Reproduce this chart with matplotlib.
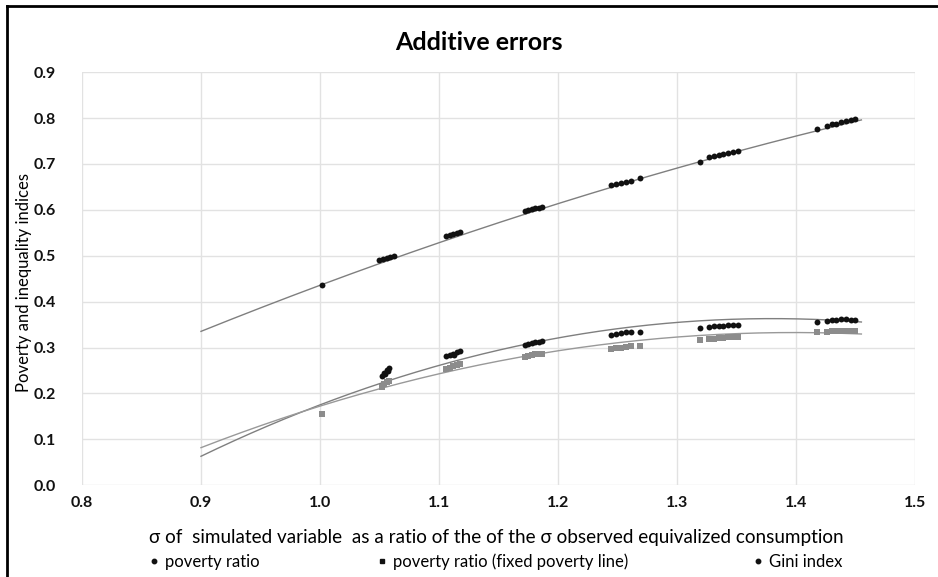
import numpy as np
import matplotlib
matplotlib.use("Agg")
import matplotlib.pyplot as plt
from matplotlib.lines import Line2D

plt.rcParams['font.family'] = ['Lato', 'DejaVu Sans']

# scatter values
gini_x = [1.002,
          1.050, 1.053, 1.056, 1.059, 1.062,
          1.106, 1.109, 1.112, 1.115, 1.118,
          1.172, 1.175, 1.178, 1.181, 1.184, 1.187,
          1.245, 1.249, 1.253, 1.257, 1.261, 1.269,
          1.319,
          1.327, 1.331, 1.335, 1.339, 1.343, 1.347, 1.351,
          1.418,
          1.426, 1.430, 1.434, 1.438, 1.442, 1.446, 1.450]
gini_y = [0.436,
          0.491, 0.493, 0.495, 0.497, 0.499,
          0.543, 0.545, 0.547, 0.549, 0.551,
          0.597, 0.599, 0.601, 0.603, 0.605, 0.607,
          0.655, 0.657, 0.659, 0.660, 0.662, 0.669,
          0.705,
          0.716, 0.718, 0.720, 0.722, 0.724, 0.726, 0.728,
          0.777,
          0.783, 0.786, 0.788, 0.791, 0.793, 0.796, 0.798]

pov_x = [1.052, 1.054, 1.056, 1.058, 1.055, 1.057,
         1.106, 1.109, 1.112, 1.115, 1.118, 1.113,
         1.172, 1.175, 1.178, 1.181, 1.184, 1.187,
         1.245, 1.249, 1.253, 1.257, 1.261, 1.269,
         1.319,
         1.327, 1.331, 1.335, 1.339, 1.343, 1.347, 1.351,
         1.418,
         1.426, 1.430, 1.434, 1.438, 1.442, 1.446, 1.450]
pov_y = [0.238, 0.245, 0.252, 0.256, 0.242, 0.249,
         0.281, 0.284, 0.287, 0.290, 0.292, 0.283,
         0.305, 0.307, 0.309, 0.311, 0.313, 0.314,
         0.328, 0.330, 0.331, 0.333, 0.334, 0.333,
         0.343,
         0.345, 0.346, 0.347, 0.348, 0.349, 0.350, 0.350,
         0.356,
         0.358, 0.360, 0.361, 0.362, 0.362, 0.361, 0.361]

fix_x = [1.002,
         1.052, 1.054, 1.056, 1.058,
         1.106, 1.109, 1.112, 1.115, 1.118,
         1.172, 1.175, 1.178, 1.181, 1.184, 1.187,
         1.245, 1.249, 1.253, 1.257, 1.261, 1.269,
         1.319,
         1.327, 1.331, 1.335, 1.339, 1.343, 1.347, 1.351,
         1.418,
         1.426, 1.430, 1.434, 1.438, 1.442, 1.446, 1.450]
fix_y = [0.155,
         0.215, 0.220, 0.224, 0.228,
         0.253, 0.256, 0.259, 0.262, 0.264,
         0.279, 0.281, 0.283, 0.285, 0.286, 0.287,
         0.297, 0.299, 0.300, 0.302, 0.303, 0.304,
         0.316,
         0.318, 0.319, 0.320, 0.321, 0.322, 0.322, 0.323,
         0.333,
         0.334, 0.335, 0.336, 0.336, 0.337, 0.337, 0.337]

# trend lines read at a few x positions (quadratic trendlines in the original)
trend_x = [0.9, 1.0, 1.1, 1.2, 1.3, 1.4, 1.455]
gini_trend = [0.334, 0.437, 0.530, 0.612, 0.690, 0.760, 0.797]
pov_trend = [0.061, 0.177, 0.263, 0.323, 0.350, 0.359, 0.360]
fix_trend = [0.079, 0.175, 0.247, 0.292, 0.318, 0.331, 0.333]

labels = ['poverty ratio', 'poverty ratio (fixed poverty line)', 'Gini index']
legend_x = [0.158, 0.401, 0.802]   # left edge of each legend entry (figure fraction)

fig = plt.figure(figsize=(9.38, 5.77), dpi=100)
ax = fig.add_axes([0.0874, 0.159, 0.888, 0.716])

xx = np.linspace(trend_x[0], trend_x[-1], 200)
for ty, col in [(gini_trend, '#7f7f7f'), (pov_trend, '#7f7f7f'), (fix_trend, '#999999')]:
    c = np.polyfit(trend_x, ty, 2)
    ax.plot(xx, np.polyval(c, xx), color=col, lw=1.0, zorder=2)

ax.scatter(fix_x, fix_y, marker='s', s=16, color='#8c8c8c', linewidths=0, zorder=3)
ax.scatter(pov_x, pov_y, marker='o', s=18, color='#111111', linewidths=0, zorder=4)
ax.scatter(gini_x, gini_y, marker='o', s=18, color='#111111', linewidths=0, zorder=4)

ax.set_xlim(0.8, 1.5)
ax.set_ylim(0.0, 0.9)
ax.set_xticks(np.arange(0.8, 1.51, 0.1))
ax.set_yticks(np.arange(0.0, 0.91, 0.1))
ax.xaxis.set_major_formatter(plt.FormatStrFormatter('%.1f'))
ax.yaxis.set_major_formatter(plt.FormatStrFormatter('%.1f'))
ax.grid(True, color='#e2e2e2', lw=1.0)
ax.set_axisbelow(True)
for s in ax.spines.values():
    s.set_visible(False)
ax.tick_params(length=0, labelsize=11.5, pad=8, colors='#111111')
ax.tick_params(axis='y', pad=19)
for t in ax.get_xticklabels() + ax.get_yticklabels():
    t.set_fontweight('bold')

ax.set_title('Additive errors', fontsize=18, fontweight='bold', pad=16, x=0.477)
ax.set_xlabel('σ of  simulated variable  as a ratio of the of the σ observed equivalized consumption',
              fontsize=13.6, labelpad=8)
ax.xaxis.set_label_coords(0.498, -0.105)
ax.set_ylabel('Poverty and inequality indices', fontsize=12)
ax.yaxis.set_label_coords(-0.060, 0.49)

markers = ['o', 's', 'o']
for lab, mk, lx in zip(labels, markers, legend_x):
    h = Line2D([], [], marker=mk, ls='', color='#111111', markersize=3.2)
    fig.legend([h], [lab], loc='center left', bbox_to_anchor=(lx, 0.026), frameon=False,
               handletextpad=0.3, handlelength=0.7, borderpad=0, borderaxespad=0,
               prop={'size': 12})

# frame lines at left and top of the image
fig.add_artist(Line2D([0.0075, 0.0075], [0, 0.99], transform=fig.transFigure, color='black', lw=2))
fig.add_artist(Line2D([0.0075, 1.0], [0.99, 0.99], transform=fig.transFigure, color='black', lw=2))

fig.savefig('out.png', dpi=100)
